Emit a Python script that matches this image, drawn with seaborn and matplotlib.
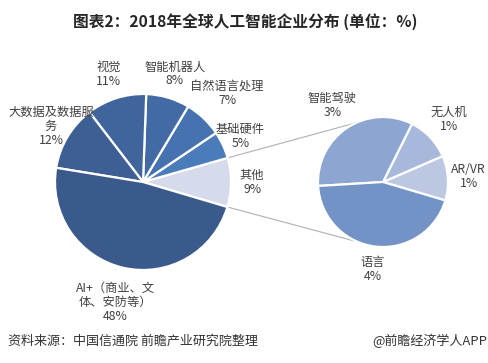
import numpy as np
import matplotlib.pyplot as plt
import seaborn as sns

sns.set_theme(style="white")
plt.rcParams["font.family"] = ["Noto Sans CJK SC", "DejaVu Sans"]

# main pie (counterclockwise from the "其他" slice)
main_labels = ["其他", "基础硬件", "自然语言处理", "智能机器人", "视觉", "大数据及数据服\n务", "AI+（商业、文\n体、安防等）"]
main_values = [9, 5, 7, 8, 11, 12, 48]
main_colors = ["#d5dbea", "#4a7bbb", "#4673b0", "#426aa4", "#40659c", "#3d5f94", "#3a5a8c"]

# breakdown of "其他"
sub_labels = ["AR/VR", "无人机", "智能驾驶", "语言"]
sub_values = [1, 1, 3, 4]
sub_colors = ["#bcc8e2", "#a8b8da", "#8ca5d1", "#7393c6"]

W, H = 489, 363
fig = plt.figure(figsize=(W / 100, H / 100), dpi=100)
ax = fig.add_axes([0, 0, 1, 1])

c1, r1 = (143, 181), 88
c2, r2 = (383, 181), 65
start = -16.5

w1, _ = ax.pie(main_values, colors=main_colors, startangle=start, counterclock=True,
               center=c1, radius=r1, wedgeprops=dict(edgecolor="white", linewidth=1.6))
w2, _ = ax.pie(sub_values, colors=sub_colors, startangle=start, counterclock=True,
               center=c2, radius=r2, wedgeprops=dict(edgecolor="white", linewidth=1.6))

txt = "#404040"
fs = 8.8


def put_labels(wedges, labels, values, center, r, dists):
    for w, lab, v, d in zip(wedges, labels, values, dists):
        a = np.deg2rad((w.theta1 + w.theta2) / 2)
        x = center[0] + d * r * np.cos(a)
        y = center[1] + d * r * np.sin(a)
        ax.text(x, y, f"{lab}\n{v}%", ha="center", va="center", fontsize=fs,
                color=txt, linespacing=1.1)


put_labels(w1, main_labels, main_values, c1, r1, [1.24, 1.22, 1.39, 1.28, 1.28, 1.22, 1.4])
put_labels(w2, sub_labels, sub_values, c2, r2, [1.32, 1.4, 1.41, 1.36])

# connector lines from the "其他" slice to the breakdown pie
other = w1[0]
for ang1, ang2 in [(other.theta2, 114), (other.theta1, 247)]:
    p1 = (c1[0] + r1 * np.cos(np.deg2rad(ang1)), c1[1] + r1 * np.sin(np.deg2rad(ang1)))
    p2 = (c2[0] + r2 * np.cos(np.deg2rad(ang2)), c2[1] + r2 * np.sin(np.deg2rad(ang2)))
    ax.plot([p1[0], p2[0]], [p1[1], p2[1]], color="#b0b0b0", linewidth=0.8, zorder=0)

ax.set_xlim(0, W)
ax.set_ylim(0, H)
ax.set_aspect("equal")
ax.axis("off")

ax.text(245, H - 22, "图表2：2018年全球人工智能企业分布 (单位：%)", ha="center", va="center",
        fontsize=11.3, fontweight="bold", color="#262626")
ax.text(8, 22, "资料来源：中国信通院 前瞻产业研究院整理", ha="left", va="center",
        fontsize=9.4, color="#333333")
ax.text(487, 22, "@前瞻经济学人APP", ha="right", va="center", fontsize=9.4, color="#333333")

fig.savefig("out.png", dpi=100)
